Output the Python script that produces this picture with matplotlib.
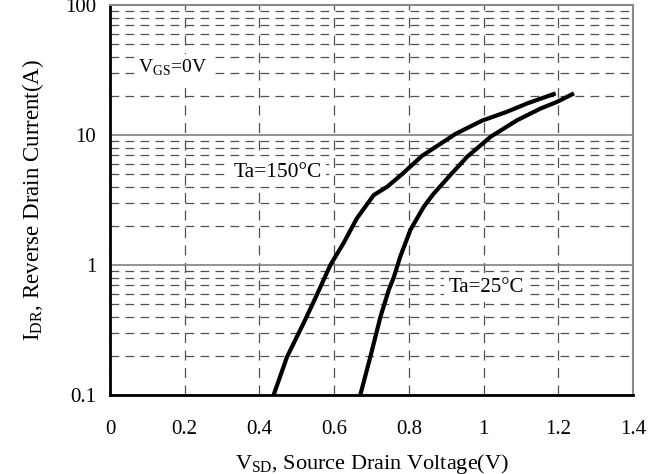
"""Reverse drain current vs. source drain voltage."""

import matplotlib
matplotlib.use('Agg')
import matplotlib.pyplot as plt
from matplotlib.ticker import FixedLocator, LogLocator, NullFormatter

plt.rcParams['font.family'] = ['Liberation Serif', 'DejaVu Serif']
plt.rcParams['mathtext.fontset'] = 'custom'
plt.rcParams['mathtext.rm'] = 'Liberation Serif'

# Ta = 150 C curve
vsd_150 = [0.438, 0.474, 0.518, 0.545, 0.590, 0.625, 0.661, 0.706, 0.742,
           0.782, 0.835, 0.925, 0.996, 1.063, 1.117, 1.193]
idr_150 = [0.1, 0.197, 0.356, 0.52, 1.0, 1.47, 2.29, 3.45, 4.0,
           5.0, 6.9, 10.2, 12.9, 15.1, 17.5, 20.9]

# Ta = 25 C curve
vsd_25 = [0.670, 0.697, 0.724, 0.746, 0.760, 0.777, 0.804, 0.840, 0.865,
          0.911, 0.956, 1.019, 1.090, 1.153, 1.197, 1.242]
idr_25 = [0.1, 0.197, 0.40, 0.64, 0.81, 1.16, 1.86, 2.81, 3.5,
          4.92, 6.8, 9.7, 13.0, 16.0, 18.0, 20.9]

x_ticks = [0, 0.2, 0.4, 0.6, 0.8, 1.0, 1.2, 1.4]
x_labels = ['0', '0.2', '0.4', '0.6', '0.8', '1', '1.2', '1.4']
y_ticks = [0.1, 1, 10, 100]
y_labels = ['0.1', '1', '10', '100']

fig = plt.figure(figsize=(6.6, 4.74), dpi=100)
ax = fig.add_axes([110 / 660, 1 - 395 / 474, 523 / 660, 390 / 474])

ax.set_yscale('log')
ax.set_xlim(0, 1.4)
ax.set_ylim(0.1, 100)

# Gitter
ax.yaxis.set_major_locator(FixedLocator(y_ticks))
ax.yaxis.set_minor_locator(LogLocator(base=10, subs=range(2, 10)))
ax.yaxis.set_minor_formatter(NullFormatter())
ax.set_yticks(y_ticks)
ax.set_yticklabels(y_labels)
ax.set_xticks(x_ticks)
ax.set_xticklabels(x_labels)

ax.grid(True, which='major', axis='y', color='#808080', linestyle='-', linewidth=1.2)
ax.grid(True, which='minor', axis='y', color='#505050', linestyle=(0, (7, 5)), linewidth=0.9)
ax.grid(True, which='major', axis='x', color='#505050', linestyle=(0, (8, 6)), linewidth=0.9)
ax.tick_params(which='both', length=0, labelsize=15)
ax.tick_params(axis='x', pad=18)
ax.tick_params(axis='y', pad=10)

for side in ['left', 'bottom']:
    ax.spines[side].set_color('black')
    ax.spines[side].set_linewidth(2)
for side in ['top', 'right']:
    ax.spines[side].set_color('#8a8a8a')
    ax.spines[side].set_linewidth(1.5)

ax.plot(vsd_150, idr_150, color='black', linewidth=3, solid_capstyle='butt')
ax.plot(vsd_25, idr_25, color='black', linewidth=3, solid_capstyle='butt')

box = dict(facecolor='white', edgecolor='none', pad=3)
ax.text(0.075, 32.7, r'V$_{\mathrm{GS}}$=0V', fontsize=14, va='center', ha='left', bbox=box)
ax.text(0.33, 5.19, 'Ta=150°C', fontsize=15.5, va='center', ha='left', bbox=box)
ax.text(0.906, 0.666, 'Ta=25°C', fontsize=15, va='center', ha='left', bbox=box)

ax.set_xlabel(r'V$_{\mathrm{SD}}$, Source Drain Voltage(V)', fontsize=16, labelpad=9)
ax.set_ylabel(r'I$_{\mathrm{DR}}$, Reverse Drain Current(A)', fontsize=16.5, labelpad=14)

fig.savefig('out.png', dpi=100)
